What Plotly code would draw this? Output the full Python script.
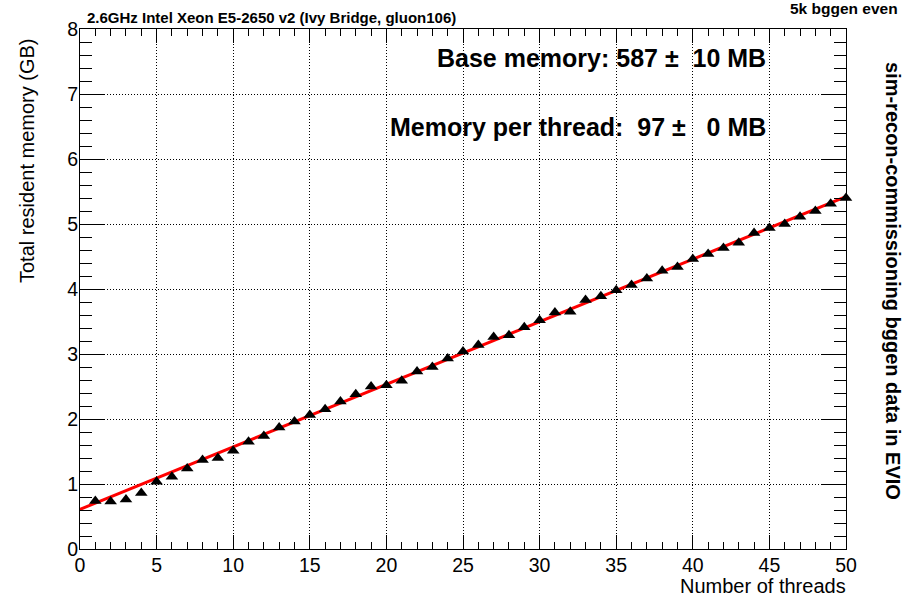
import plotly.graph_objects as go

threads = list(range(1, 51))
memory_gb = [0.74, 0.73, 0.76, 0.86, 1.035, 1.11, 1.24, 1.37, 1.40, 1.51,
             1.65, 1.74, 1.87, 1.96, 2.06, 2.15, 2.27, 2.38, 2.50, 2.52,
             2.59, 2.73, 2.80, 2.93, 3.04, 3.14, 3.26, 3.29, 3.41, 3.52,
             3.64, 3.65, 3.83, 3.89, 3.98, 4.06, 4.16, 4.28, 4.34, 4.46,
             4.54, 4.63, 4.71, 4.86, 4.94, 5.00, 5.11, 5.20, 5.31, 5.40]
fit_x = [0, 50]
fit_y = [0.61, 5.42]

x_ticks = [0, 5, 10, 15, 20, 25, 30, 35, 40, 45, 50]
y_ticks = [0, 1, 2, 3, 4, 5, 6, 7, 8]

FONT = "Liberation Sans, Arial, Helvetica, sans-serif"
NB = "\u00a0"

fig = go.Figure()
fig.add_trace(go.Scatter(x=fit_x, y=fit_y, mode="lines",
                         line=dict(color="#ff0000", width=3), showlegend=False,
                         cliponaxis=False))
fig.add_trace(go.Scatter(x=threads, y=memory_gb, mode="markers",
                         marker=dict(symbol="triangle-up", size=11, color="black"),
                         showlegend=False, cliponaxis=False))

axis_common = dict(
    showline=True, linecolor="black", linewidth=1, mirror="ticks",
    ticks="inside", tickcolor="black", tickwidth=1,
    showgrid=True, gridcolor="black", griddash="1px,2px", gridwidth=1,
    zeroline=False, automargin=False,
    tickfont=dict(family=FONT, size=19.5, color="black"),
)

fig.update_xaxes(range=[0, 50], tickvals=x_ticks, ticklen=14, ticklabelstandoff=-1,
                 minor=dict(ticks="inside", ticklen=7, dtick=1, tickcolor="black", showgrid=False),
                 **axis_common)
fig.update_yaxes(range=[0, 8], tickvals=y_ticks, ticklen=25, ticklabelstandoff=-3,
                 minor=dict(ticks="inside", ticklen=12, dtick=0.2, tickcolor="black", showgrid=False),
                 **axis_common)

def px(sx):
    return (sx - 80) / 766

def py(sy):
    return (549 - sy) / 520

ann = []
ann.append(dict(text="Number of threads", xref="paper", yref="paper", x=px(848),
                y=py(586), xanchor="right", yanchor="middle", showarrow=False,
                font=dict(family=FONT, size=20, color="black")))
ann.append(dict(text="Total resident memory (GB)", xref="paper", yref="paper",
                x=px(27), y=py(161),
                xanchor="center", yanchor="middle", textangle=-90, showarrow=False,
                font=dict(family=FONT, size=20, color="black")))
ann.append(dict(text="<b>2.6GHz Intel Xeon E5-2650 v2 (Ivy Bridge, gluon106)</b>",
                xref="paper", yref="paper", x=px(85), y=py(17),
                xanchor="left", yanchor="middle",
                showarrow=False, font=dict(family=FONT, size=15, color="black")))
ann.append(dict(text="<b>5k bggen even</b>",
                xref="paper", yref="paper", x=px(788), y=py(9),
                xanchor="left", yanchor="middle",
                showarrow=False, font=dict(family=FONT, size=15.5, color="black")))
ann.append(dict(text="<b>sim-recon-commissioning bggen data in EVIO</b>",
                xref="paper", yref="paper", x=px(893), y=py(281),
                xanchor="center", yanchor="middle",
                textangle=90, showarrow=False, font=dict(family=FONT, size=20, color="black")))
ann.append(dict(text="<b>Base memory: 587 \u00b1" + NB + NB + "10 MB</b>",
                xref="paper", yref="paper", x=px(768), y=py(58),
                xanchor="right", yanchor="middle",
                showarrow=False, font=dict(family=FONT, size=25, color="black")))
ann.append(dict(text="<b>Memory per thread:" + NB + NB + "97 \u00b1" + NB + NB + NB + "0 MB</b>",
                xref="paper", yref="paper", x=px(768), y=py(127),
                xanchor="right", yanchor="middle",
                showarrow=False, font=dict(family=FONT, size=25, color="black")))

fig.update_layout(
    width=906, height=596,
    margin=dict(l=80, r=60, t=29, b=47),
    paper_bgcolor="white", plot_bgcolor="white",
    annotations=ann,
    font=dict(family=FONT, color="black"),
)

fig.write_html("out.html", config={"displayModeBar": False},
               post_script="document.body.style.margin='0px';document.body.style.overflow='hidden';")
